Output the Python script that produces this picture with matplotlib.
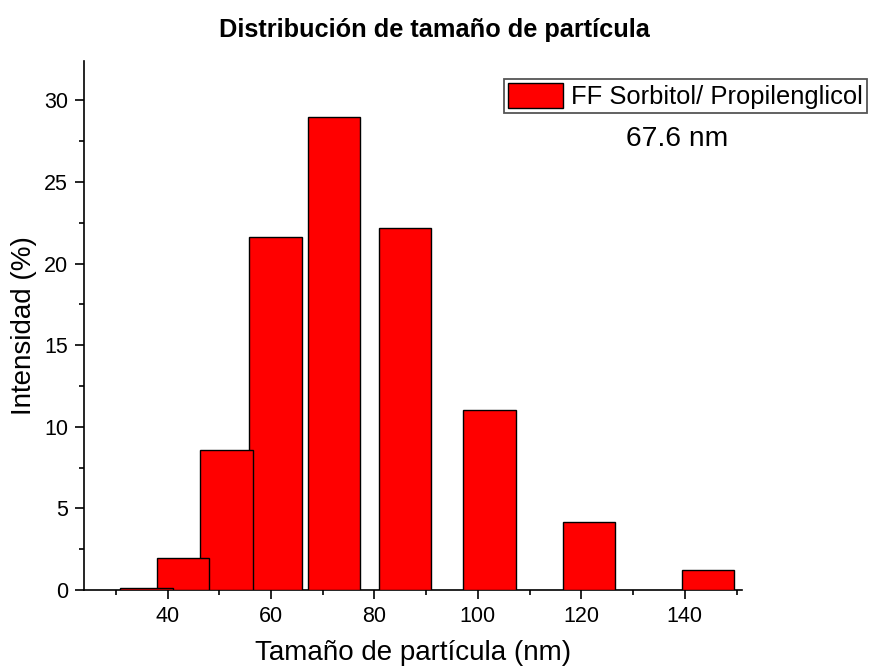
import matplotlib
matplotlib.use("Agg")
import matplotlib.pyplot as plt
from matplotlib.ticker import MultipleLocator

plt.rcParams['font.family'] = ['Liberation Sans', 'DejaVu Sans']

# bin centres (nm) and intensity (%)
sizes = [36.0, 43.0, 51.4, 60.8, 72.2, 85.9, 102.2, 121.5, 144.5]
intensity = [0.15, 1.95, 8.6, 21.6, 29.0, 22.2, 11.0, 4.15, 1.2]
bar_width = 10.2
series_label = "FF Sorbitol/ Propilenglicol"
mean_label = "67.6 nm"

fig = plt.figure(figsize=(8.69, 6.72), dpi=100)
ax = fig.add_axes([0.097, 0.122, 0.7565, 0.787])

# later bins drawn first, so the smaller ones sit on top where they overlap
n = len(sizes)
for i in reversed(range(n)):
    ax.bar(sizes[i], intensity[i], width=bar_width, color='#ff0000',
           edgecolor='black', linewidth=1.0, zorder=2 + (n - i),
           label=series_label if i == 0 else None)

ax.set_xlim(23.9, 151.0)
ax.set_ylim(0, 32.4)
ax.xaxis.set_major_locator(MultipleLocator(20))
ax.xaxis.set_minor_locator(MultipleLocator(10))
ax.yaxis.set_major_locator(MultipleLocator(5))
ax.yaxis.set_minor_locator(MultipleLocator(2.5))
ax.set_xticks([40, 60, 80, 100, 120, 140])

for side in ['top', 'right']:
    ax.spines[side].set_visible(False)
for side in ['left', 'bottom']:
    ax.spines[side].set_linewidth(1.2)

ax.tick_params(which='major', direction='out', length=6.7, width=1.2,
               labelsize=15.5, pad=5)
ax.tick_params(which='minor', direction='out', length=3.3, width=1.2)

ax.set_xlabel("Tamaño de partícula (nm)", fontsize=20, labelpad=9)
ax.set_ylabel("Intensidad (%)", fontsize=20, labelpad=5)
fig.text(0.5, 1 - 30 / 672, "Distribución de tamaño de partícula",
         fontsize=18.3, fontweight='bold', ha='center', va='center')

handles, labels = ax.get_legend_handles_labels()
leg = ax.legend(handles, labels, loc='upper left',
                bbox_to_anchor=(504 / 869, 1 - 79 / 672),
                bbox_transform=fig.transFigure, fontsize=18.4,
                fancybox=False, borderpad=0.16, borderaxespad=0,
                handlelength=2.15, handleheight=1.1, handletextpad=0.3,
                framealpha=1)
leg.get_frame().set_edgecolor('#555555')
leg.get_frame().set_linewidth(1.3)

fig.text(677.5 / 869, 1 - 139.5 / 672, mean_label, fontsize=20.3,
         ha='center', va='center')

fig.savefig("out.png", dpi=100)
